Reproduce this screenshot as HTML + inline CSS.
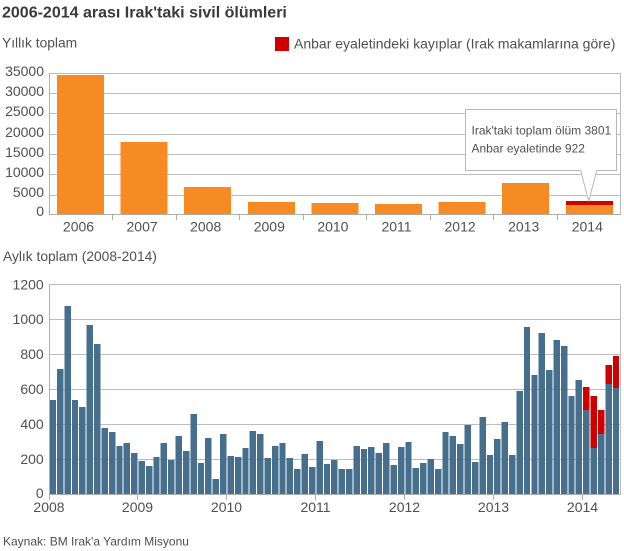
<!DOCTYPE html>
<html>
<head>
<meta charset="utf-8">
<style>
  html, body { margin: 0; padding: 0; background: #ffffff; }
  svg { display: block; }
  text { font-family: "Liberation Sans", Arial, sans-serif; fill: #505050; }
</style>
</head>
<body>
<svg width="624" height="551" viewBox="0 0 624 551" xmlns="http://www.w3.org/2000/svg">
  <!-- Title -->
  <text x="2" y="17.5" font-size="16" font-weight="bold" style="fill:#3a3a3a">2006-2014 arası Irak'taki sivil ölümleri</text>

  <!-- Top chart headings -->
  <text x="2" y="47.5" font-size="13.8">Yıllık toplam</text>
  <rect x="275" y="37" width="14" height="14" fill="#d00000"/>
  <text x="294" y="48.5" font-size="14">Anbar eyaletindeki kayıplar (Irak makamlarına göre)</text>

  <!-- Top chart gridlines -->
  <g stroke="#bdbdbd" stroke-width="1" shape-rendering="crispEdges">
    <line x1="49.5" y1="73.5" x2="620.5" y2="73.5"/>
    <line x1="49.5" y1="93.5" x2="620.5" y2="93.5"/>
    <line x1="49.5" y1="113.5" x2="620.5" y2="113.5"/>
    <line x1="49.5" y1="134.5" x2="620.5" y2="134.5"/>
    <line x1="49.5" y1="154.5" x2="620.5" y2="154.5"/>
    <line x1="49.5" y1="174.5" x2="620.5" y2="174.5"/>
    <line x1="49.5" y1="195.5" x2="620.5" y2="195.5"/>
    <line x1="620.5" y1="73.5" x2="620.5" y2="214.5"/>
  </g>

  <!-- Top chart bars -->
  <g fill="#f68b23" shape-rendering="crispEdges">
    <rect x="57" y="75" width="47" height="139"/>
    <rect x="120.6" y="142" width="47" height="72"/>
    <rect x="184.2" y="187" width="47" height="27"/>
    <rect x="247.8" y="202" width="47" height="12"/>
    <rect x="311.4" y="203" width="47" height="11"/>
    <rect x="375" y="204" width="47" height="10"/>
    <rect x="438.6" y="202" width="47" height="12"/>
    <rect x="502.2" y="183" width="47" height="31"/>
    <rect x="565.8" y="205" width="47" height="9"/>
  </g>
  <rect x="565.8" y="201" width="47" height="4" fill="#d00000" shape-rendering="crispEdges"/>

  <!-- Top chart axes -->
  <g stroke="#adadad" stroke-width="1" shape-rendering="crispEdges">
    <line x1="49.5" y1="73" x2="49.5" y2="215"/>
    <line x1="49" y1="214.5" x2="621" y2="214.5"/>
    <line x1="112.5" y1="214.5" x2="112.5" y2="220"/>
    <line x1="176.5" y1="214.5" x2="176.5" y2="220"/>
    <line x1="239.5" y1="214.5" x2="239.5" y2="220"/>
    <line x1="303.5" y1="214.5" x2="303.5" y2="220"/>
    <line x1="366.5" y1="214.5" x2="366.5" y2="220"/>
    <line x1="430.5" y1="214.5" x2="430.5" y2="220"/>
    <line x1="493.5" y1="214.5" x2="493.5" y2="220"/>
    <line x1="557.5" y1="214.5" x2="557.5" y2="220"/>
  </g>

  <!-- Top chart y labels -->
  <g font-size="14" text-anchor="end">
    <text x="44" y="76">35000</text>
    <text x="44" y="96">30000</text>
    <text x="44" y="116">25000</text>
    <text x="44" y="137">20000</text>
    <text x="44" y="157">15000</text>
    <text x="44" y="177">10000</text>
    <text x="44" y="197">5000</text>
    <text x="44" y="216">0</text>
  </g>

  <!-- Top chart x labels -->
  <g font-size="14" text-anchor="middle">
    <text x="78.5" y="231.5">2006</text>
    <text x="142.1" y="231.5">2007</text>
    <text x="205.7" y="231.5">2008</text>
    <text x="269.3" y="231.5">2009</text>
    <text x="332.9" y="231.5">2010</text>
    <text x="396.5" y="231.5">2011</text>
    <text x="460.1" y="231.5">2012</text>
    <text x="523.7" y="231.5">2013</text>
    <text x="587.3" y="231.5">2014</text>
  </g>

  <!-- Tooltip -->
  <rect x="465.5" y="109.5" width="151" height="61" fill="#ffffff" stroke="#b8b8b8" stroke-width="1"/>
  <polygon points="580.7,170 588.7,201.5 596.7,170" fill="#ffffff"/>
  <polyline points="580.7,170.5 588.7,201.5 596.7,170.5" fill="none" stroke="#b8b8b8" stroke-width="1"/>
  <text x="471.5" y="134.7" font-size="12">Irak'taki toplam ölüm 3801</text>
  <text x="471.5" y="152.7" font-size="12">Anbar eyaletinde 922</text>

  <!-- Bottom chart heading -->
  <text x="3" y="261" font-size="13.8">Aylık toplam (2008-2014)</text>

  <!-- Bottom chart gridlines -->
  <g stroke="#bdbdbd" stroke-width="1" shape-rendering="crispEdges">
    <line x1="49" y1="284.5" x2="620.5" y2="284.5"/>
    <line x1="49" y1="319.5" x2="620.5" y2="319.5"/>
    <line x1="49" y1="354.5" x2="620.5" y2="354.5"/>
    <line x1="49" y1="389.5" x2="620.5" y2="389.5"/>
    <line x1="49" y1="424.5" x2="620.5" y2="424.5"/>
    <line x1="49" y1="459.5" x2="620.5" y2="459.5"/>
    <line x1="620.5" y1="284.5" x2="620.5" y2="494.5"/>
  </g>

  <!-- Bottom chart bars -->
  <g transform="translate(49.6,494.3) scale(7.41,-0.175)" fill="#466f8e" shape-rendering="crispEdges">
    <rect x="0" width=".865" height="539"/>
    <rect x="1" width=".865" height="716"/>
    <rect x="2" width=".865" height="1076"/>
    <rect x="3" width=".865" height="539"/>
    <rect x="4" width=".865" height="499"/>
    <rect x="5" width=".865" height="968"/>
    <rect x="6" width=".865" height="859"/>
    <rect x="7" width=".865" height="379"/>
    <rect x="8" width=".865" height="356"/>
    <rect x="9" width=".865" height="276"/>
    <rect x="10" width=".865" height="293"/>
    <rect x="11" width=".865" height="236"/>
    <rect x="12" width=".865" height="190"/>
    <rect x="13" width=".865" height="162"/>
    <rect x="14" width=".865" height="213"/>
    <rect x="15" width=".865" height="293"/>
    <rect x="16" width=".865" height="196"/>
    <rect x="17" width=".865" height="333"/>
    <rect x="18" width=".865" height="248"/>
    <rect x="19" width=".865" height="459"/>
    <rect x="20" width=".865" height="179"/>
    <rect x="21" width=".865" height="322"/>
    <rect x="22" width=".865" height="88"/>
    <rect x="23" width=".865" height="345"/>
    <rect x="24" width=".865" height="219"/>
    <rect x="25" width=".865" height="213"/>
    <rect x="26" width=".865" height="265"/>
    <rect x="27" width=".865" height="362"/>
    <rect x="28" width=".865" height="345"/>
    <rect x="29" width=".865" height="208"/>
    <rect x="30" width=".865" height="276"/>
    <rect x="31" width=".865" height="293"/>
    <rect x="32" width=".865" height="208"/>
    <rect x="33" width=".865" height="145"/>
    <rect x="34" width=".865" height="230"/>
    <rect x="35" width=".865" height="156"/>
    <rect x="36" width=".865" height="305"/>
    <rect x="37" width=".865" height="173"/>
    <rect x="38" width=".865" height="196"/>
    <rect x="39" width=".865" height="145"/>
    <rect x="40" width=".865" height="145"/>
    <rect x="41" width=".865" height="276"/>
    <rect x="42" width=".865" height="259"/>
    <rect x="43" width=".865" height="270"/>
    <rect x="44" width=".865" height="236"/>
    <rect x="45" width=".865" height="293"/>
    <rect x="46" width=".865" height="168"/>
    <rect x="47" width=".865" height="270"/>
    <rect x="48" width=".865" height="299"/>
    <rect x="49" width=".865" height="150"/>
    <rect x="50" width=".865" height="179"/>
    <rect x="51" width=".865" height="202"/>
    <rect x="52" width=".865" height="145"/>
    <rect x="53" width=".865" height="356"/>
    <rect x="54" width=".865" height="333"/>
    <rect x="55" width=".865" height="288"/>
    <rect x="56" width=".865" height="396"/>
    <rect x="57" width=".865" height="185"/>
    <rect x="58" width=".865" height="442"/>
    <rect x="59" width=".865" height="225"/>
    <rect x="60" width=".865" height="316"/>
    <rect x="61" width=".865" height="413"/>
    <rect x="62" width=".865" height="225"/>
    <rect x="63" width=".865" height="590"/>
    <rect x="64" width=".865" height="956"/>
    <rect x="65" width=".865" height="682"/>
    <rect x="66" width=".865" height="922"/>
    <rect x="67" width=".865" height="710"/>
    <rect x="68" width=".865" height="882"/>
    <rect x="69" width=".865" height="848"/>
    <rect x="70" width=".865" height="562"/>
    <rect x="71" width=".865" height="653"/>
    <rect x="72" width=".865" height="482"/>
    <rect x="73" width=".865" height="265"/>
    <rect x="74" width=".865" height="345"/>
    <rect x="75" width=".865" height="630"/>
    <rect x="76" width=".865" height="608"/>
    <g fill="#d00000">
      <rect x="72" y="482" width=".865" height="131"/>
      <rect x="73" y="265" width=".865" height="297"/>
      <rect x="74" y="345" width=".865" height="137"/>
      <rect x="75" y="630" width=".865" height="109"/>
      <rect x="76" y="608" width=".865" height="182"/>
    </g>
  </g>

  <!-- Bottom chart axes -->
  <g stroke="#adadad" stroke-width="1" shape-rendering="crispEdges">
    <line x1="49.5" y1="284" x2="49.5" y2="500"/>
    <line x1="49" y1="494.5" x2="621" y2="494.5"/>
    <line x1="137.5" y1="494.5" x2="137.5" y2="500"/>
    <line x1="226.5" y1="494.5" x2="226.5" y2="500"/>
    <line x1="315.5" y1="494.5" x2="315.5" y2="500"/>
    <line x1="404.5" y1="494.5" x2="404.5" y2="500"/>
    <line x1="493.5" y1="494.5" x2="493.5" y2="500"/>
    <line x1="582.5" y1="494.5" x2="582.5" y2="500"/>
  </g>

  <!-- Bottom chart y labels -->
  <g font-size="14" text-anchor="end">
    <text x="43.7" y="289.5">1200</text>
    <text x="43.7" y="324">1000</text>
    <text x="43.7" y="359">800</text>
    <text x="43.7" y="394">600</text>
    <text x="43.7" y="429">400</text>
    <text x="43.7" y="464">200</text>
    <text x="43.7" y="498">0</text>
  </g>

  <!-- Bottom chart x labels -->
  <g font-size="14" text-anchor="middle">
    <text x="49" y="512">2008</text>
    <text x="137.5" y="512">2009</text>
    <text x="226.5" y="512">2010</text>
    <text x="315.5" y="512">2011</text>
    <text x="404.5" y="512">2012</text>
    <text x="493.5" y="512">2013</text>
    <text x="582.5" y="512">2014</text>
  </g>

  <!-- Source -->
  <text x="3" y="545.5" font-size="12">Kaynak: BM Irak'a Yardım Misyonu</text>
</svg>
</body>
</html>
